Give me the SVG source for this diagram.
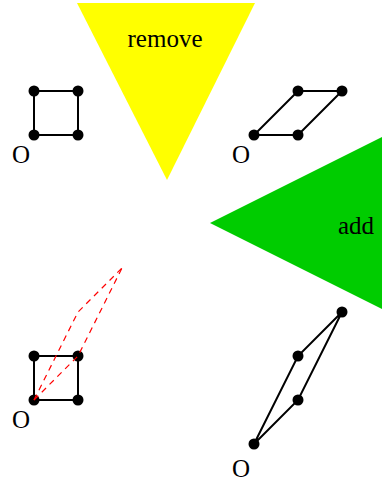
<svg xmlns="http://www.w3.org/2000/svg" width="382" height="481" viewBox="0 0 382 481">
<style>
.lbl{font-family:"Liberation Serif","Times New Roman",serif;font-size:25px;fill:#000}
.edge{stroke:#000;stroke-width:2;fill:none}
.dash{stroke:#ff0000;stroke-width:1.2;fill:none;stroke-dasharray:6,5}
.dot{fill:#000}
</style>
<rect width="382" height="481" fill="#fff"/>
<g id="remove">
<polygon points="77,3 255,3 167,180" fill="#ffff00"/>
<text class="lbl" x="165" y="47" text-anchor="middle">remove</text>
</g>
<g id="add">
<polygon points="210,223 382,137 382,309" fill="#00cc00"/>
<text class="lbl" x="356" y="234" text-anchor="middle">add</text>
</g>
<g id="shape1">
<polygon class="edge" points="34,91 78,91 78,135 34,135"/>
<circle class="dot" cx="34" cy="91" r="5.5"/>
<circle class="dot" cx="78" cy="91" r="5.5"/>
<circle class="dot" cx="34" cy="135" r="5.5"/>
<circle class="dot" cx="78" cy="135" r="5.5"/>
<text class="lbl" x="12" y="163">O</text>
</g>
<g id="shape2">
<polygon class="edge" points="254,135 298,135 342,91 298,91"/>
<circle class="dot" cx="254" cy="135" r="5.5"/>
<circle class="dot" cx="298" cy="135" r="5.5"/>
<circle class="dot" cx="298" cy="91" r="5.5"/>
<circle class="dot" cx="342" cy="91" r="5.5"/>
<text class="lbl" x="232" y="163">O</text>
</g>
<g id="shape3">
<polygon class="edge" points="34,400 78,400 78,356 34,356"/>
<circle class="dot" cx="34" cy="356" r="5.5"/>
<circle class="dot" cx="78" cy="356" r="5.5"/>
<circle class="dot" cx="34" cy="400" r="5.5"/>
<circle class="dot" cx="78" cy="400" r="5.5"/>
<text class="lbl" x="12" y="428">O</text>
</g>
<g id="shape4">
<polygon class="edge" points="254,444 298,400 342,312 298,356"/>
<circle class="dot" cx="254" cy="444" r="5.5"/>
<circle class="dot" cx="298" cy="400" r="5.5"/>
<circle class="dot" cx="298" cy="356" r="5.5"/>
<circle class="dot" cx="342" cy="312" r="5.5"/>
<text class="lbl" x="232" y="477">O</text>
</g>
<g id="connectors">
<polyline class="dash" points="34,400 78,356 122,268"/>
<polyline class="dash" points="34,400 78,312 122,268"/>
</g>
</svg>
